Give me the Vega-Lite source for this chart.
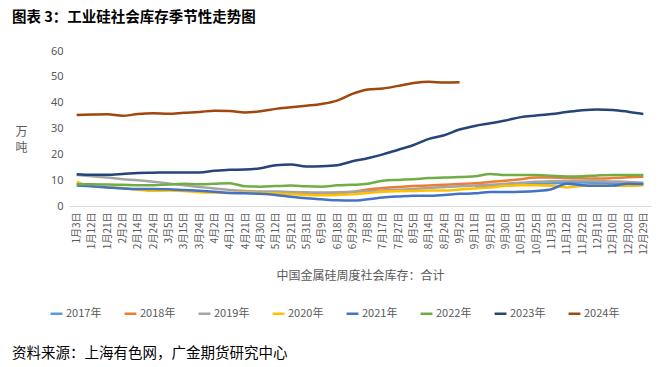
{
  "$schema": "https://vega.github.io/schema/vega-lite/v6.json",
  "padding": {"left": 12, "top": 9, "right": 5, "bottom": 5},
  "background": "white",
  "config": {
    "view": {"stroke": null},
    "font": "Noto Sans CJK SC"
  },
  "title": {
    "text": "图表 3：工业硅社会库存季节性走势图",
    "anchor": "start",
    "frame": "group",
    "fontSize": 14.5,
    "fontWeight": "bold",
    "font": "Noto Sans CJK SC",
    "color": "#000000",
    "dx": -57,
    "offset": 20
  },
  "vconcat": [
    {
      "width": 582,
      "height": 155,
      "title": {
        "text": "资料来源：上海有色网，广金期货研究中心",
        "orient": "bottom",
        "anchor": "start",
        "frame": "group",
        "fontSize": 14.5,
        "fontWeight": "normal",
        "font": "Noto Sans CJK SC",
        "color": "#000000",
        "dx": -57,
        "offset": 66
      },
      "data": {
        "values": [
          {"d":"9月11日","s":"2017年","v":7.6},{"d":"9月21日","s":"2017年","v":7.9},{"d":"9月30日","s":"2017年","v":8.0},{"d":"10月15日","s":"2017年","v":8.3},{"d":"10月25日","s":"2017年","v":8.6},{"d":"11月3日","s":"2017年","v":8.8},{"d":"11月12日","s":"2017年","v":9.0},{"d":"11月22日","s":"2017年","v":9.1},{"d":"12月1日","s":"2017年","v":9.0},{"d":"12月10日","s":"2017年","v":8.8},{"d":"12月20日","s":"2017年","v":8.6},{"d":"12月29日","s":"2017年","v":8.5},

          {"d":"5月12日","s":"2018年","v":4.8},{"d":"5月21日","s":"2018年","v":4.8},{"d":"5月31日","s":"2018年","v":4.6},{"d":"6月9日","s":"2018年","v":4.6},{"d":"6月18日","s":"2018年","v":4.9},{"d":"6月29日","s":"2018年","v":5.4},{"d":"7月8日","s":"2018年","v":6.4},{"d":"7月17日","s":"2018年","v":7.0},{"d":"7月27日","s":"2018年","v":7.4},{"d":"8月5日","s":"2018年","v":7.7},{"d":"8月14日","s":"2018年","v":7.9},{"d":"8月24日","s":"2018年","v":8.2},{"d":"9月2日","s":"2018年","v":8.5},{"d":"9月11日","s":"2018年","v":8.8},{"d":"9月21日","s":"2018年","v":9.3},{"d":"9月30日","s":"2018年","v":9.8},{"d":"10月15日","s":"2018年","v":10.4},{"d":"10月25日","s":"2018年","v":11.0},{"d":"11月3日","s":"2018年","v":11.0},{"d":"11月12日","s":"2018年","v":10.8},{"d":"11月22日","s":"2018年","v":10.7},{"d":"12月1日","s":"2018年","v":10.6},{"d":"12月10日","s":"2018年","v":10.8},{"d":"12月20日","s":"2018年","v":11.1},{"d":"12月29日","s":"2018年","v":11.3},

          {"d":"1月3日","s":"2019年","v":12.0},{"d":"1月12日","s":"2019年","v":11.5},{"d":"1月21日","s":"2019年","v":11.0},{"d":"2月2日","s":"2019年","v":10.4},{"d":"2月14日","s":"2019年","v":10.0},{"d":"2月24日","s":"2019年","v":9.4},{"d":"3月5日","s":"2019年","v":8.7},{"d":"3月15日","s":"2019年","v":8.0},{"d":"3月24日","s":"2019年","v":7.4},{"d":"4月2日","s":"2019年","v":6.8},{"d":"4月12日","s":"2019年","v":6.2},{"d":"4月21日","s":"2019年","v":5.8},{"d":"4月30日","s":"2019年","v":5.6},{"d":"5月12日","s":"2019年","v":5.6},{"d":"5月21日","s":"2019年","v":5.4},{"d":"5月31日","s":"2019年","v":5.3},{"d":"6月9日","s":"2019年","v":5.2},{"d":"6月18日","s":"2019年","v":5.3},{"d":"6月29日","s":"2019年","v":5.5},{"d":"7月8日","s":"2019年","v":5.7},{"d":"7月17日","s":"2019年","v":6.0},{"d":"7月27日","s":"2019年","v":6.3},{"d":"8月5日","s":"2019年","v":6.6},{"d":"8月14日","s":"2019年","v":7.0},{"d":"8月24日","s":"2019年","v":7.3},{"d":"9月2日","s":"2019年","v":7.6},{"d":"9月11日","s":"2019年","v":7.9},{"d":"9月21日","s":"2019年","v":8.2},{"d":"9月30日","s":"2019年","v":8.6},{"d":"10月15日","s":"2019年","v":9.0},{"d":"10月25日","s":"2019年","v":9.4},{"d":"11月3日","s":"2019年","v":9.6},{"d":"11月12日","s":"2019年","v":9.7},{"d":"11月22日","s":"2019年","v":9.8},{"d":"12月1日","s":"2019年","v":9.7},{"d":"12月10日","s":"2019年","v":9.5},{"d":"12月20日","s":"2019年","v":9.3},{"d":"12月29日","s":"2019年","v":9.0},

          {"d":"1月3日","s":"2020年","v":9.3},{"d":"1月12日","s":"2020年","v":7.6},{"d":"1月21日","s":"2020年","v":7.2},{"d":"2月2日","s":"2020年","v":7.0},{"d":"2月14日","s":"2020年","v":6.3},{"d":"2月24日","s":"2020年","v":5.9},{"d":"3月5日","s":"2020年","v":6.0},{"d":"3月15日","s":"2020年","v":5.8},{"d":"3月24日","s":"2020年","v":5.3},{"d":"4月2日","s":"2020年","v":5.2},{"d":"4月12日","s":"2020年","v":5.0},{"d":"4月21日","s":"2020年","v":5.2},{"d":"4月30日","s":"2020年","v":5.0},{"d":"5月12日","s":"2020年","v":4.8},{"d":"5月21日","s":"2020年","v":4.6},{"d":"5月31日","s":"2020年","v":4.3},{"d":"6月9日","s":"2020年","v":4.2},{"d":"6月18日","s":"2020年","v":4.3},{"d":"6月29日","s":"2020年","v":4.5},{"d":"7月8日","s":"2020年","v":5.0},{"d":"7月17日","s":"2020年","v":5.5},{"d":"7月27日","s":"2020年","v":5.7},{"d":"8月5日","s":"2020年","v":5.8},{"d":"8月14日","s":"2020年","v":6.0},{"d":"8月24日","s":"2020年","v":6.0},{"d":"9月2日","s":"2020年","v":6.4},{"d":"9月11日","s":"2020年","v":6.8},{"d":"9月21日","s":"2020年","v":7.2},{"d":"9月30日","s":"2020年","v":7.8},{"d":"10月15日","s":"2020年","v":8.0},{"d":"10月25日","s":"2020年","v":8.0},{"d":"11月3日","s":"2020年","v":7.8},{"d":"11月12日","s":"2020年","v":7.2},{"d":"11月22日","s":"2020年","v":7.8},{"d":"12月1日","s":"2020年","v":8.0},{"d":"12月10日","s":"2020年","v":7.8},{"d":"12月20日","s":"2020年","v":7.8},{"d":"12月29日","s":"2020年","v":8.0},

          {"d":"1月3日","s":"2021年","v":7.9},{"d":"1月12日","s":"2021年","v":7.6},{"d":"1月21日","s":"2021年","v":7.2},{"d":"2月2日","s":"2021年","v":6.8},{"d":"2月14日","s":"2021年","v":6.6},{"d":"2月24日","s":"2021年","v":6.6},{"d":"3月5日","s":"2021年","v":6.5},{"d":"3月15日","s":"2021年","v":6.2},{"d":"3月24日","s":"2021年","v":5.9},{"d":"4月2日","s":"2021年","v":5.5},{"d":"4月12日","s":"2021年","v":5.0},{"d":"4月21日","s":"2021年","v":4.9},{"d":"4月30日","s":"2021年","v":4.7},{"d":"5月12日","s":"2021年","v":4.3},{"d":"5月21日","s":"2021年","v":3.6},{"d":"5月31日","s":"2021年","v":3.0},{"d":"6月9日","s":"2021年","v":2.6},{"d":"6月18日","s":"2021年","v":2.2},{"d":"6月29日","s":"2021年","v":2.1},{"d":"7月8日","s":"2021年","v":2.6},{"d":"7月17日","s":"2021年","v":3.3},{"d":"7月27日","s":"2021年","v":3.7},{"d":"8月5日","s":"2021年","v":4.0},{"d":"8月14日","s":"2021年","v":4.0},{"d":"8月24日","s":"2021年","v":4.3},{"d":"9月2日","s":"2021年","v":4.7},{"d":"9月11日","s":"2021年","v":4.9},{"d":"9月21日","s":"2021年","v":5.4},{"d":"9月30日","s":"2021年","v":5.4},{"d":"10月15日","s":"2021年","v":5.5},{"d":"10月25日","s":"2021年","v":5.8},{"d":"11月3日","s":"2021年","v":6.5},{"d":"11月12日","s":"2021年","v":8.6},{"d":"11月22日","s":"2021年","v":8.0},{"d":"12月1日","s":"2021年","v":7.8},{"d":"12月10日","s":"2021年","v":7.9},{"d":"12月20日","s":"2021年","v":8.6},{"d":"12月29日","s":"2021年","v":8.5},

          {"d":"1月3日","s":"2022年","v":8.4},{"d":"1月12日","s":"2022年","v":8.4},{"d":"1月21日","s":"2022年","v":8.3},{"d":"2月2日","s":"2022年","v":8.2},{"d":"2月14日","s":"2022年","v":8.0},{"d":"2月24日","s":"2022年","v":8.0},{"d":"3月5日","s":"2022年","v":8.3},{"d":"3月15日","s":"2022年","v":8.6},{"d":"3月24日","s":"2022年","v":8.4},{"d":"4月2日","s":"2022年","v":8.6},{"d":"4月12日","s":"2022年","v":8.8},{"d":"4月21日","s":"2022年","v":7.6},{"d":"4月30日","s":"2022年","v":7.5},{"d":"5月12日","s":"2022年","v":7.7},{"d":"5月21日","s":"2022年","v":7.9},{"d":"5月31日","s":"2022年","v":7.6},{"d":"6月9日","s":"2022年","v":7.5},{"d":"6月18日","s":"2022年","v":8.0},{"d":"6月29日","s":"2022年","v":8.2},{"d":"7月8日","s":"2022年","v":8.6},{"d":"7月17日","s":"2022年","v":9.8},{"d":"7月27日","s":"2022年","v":10.1},{"d":"8月5日","s":"2022年","v":10.4},{"d":"8月14日","s":"2022年","v":10.8},{"d":"8月24日","s":"2022年","v":11.0},{"d":"9月2日","s":"2022年","v":11.2},{"d":"9月11日","s":"2022年","v":11.5},{"d":"9月21日","s":"2022年","v":12.4},{"d":"9月30日","s":"2022年","v":12.0},{"d":"10月15日","s":"2022年","v":12.0},{"d":"10月25日","s":"2022年","v":12.0},{"d":"11月3日","s":"2022年","v":11.7},{"d":"11月12日","s":"2022年","v":11.4},{"d":"11月22日","s":"2022年","v":11.5},{"d":"12月1日","s":"2022年","v":11.8},{"d":"12月10日","s":"2022年","v":12.0},{"d":"12月20日","s":"2022年","v":12.0},{"d":"12月29日","s":"2022年","v":12.0},

          {"d":"1月3日","s":"2023年","v":12.3},{"d":"1月12日","s":"2023年","v":12.1},{"d":"1月21日","s":"2023年","v":12.1},{"d":"2月2日","s":"2023年","v":12.4},{"d":"2月14日","s":"2023年","v":12.8},{"d":"2月24日","s":"2023年","v":12.9},{"d":"3月5日","s":"2023年","v":13.0},{"d":"3月15日","s":"2023年","v":13.0},{"d":"3月24日","s":"2023年","v":13.0},{"d":"4月2日","s":"2023年","v":13.6},{"d":"4月12日","s":"2023年","v":14.0},{"d":"4月21日","s":"2023年","v":14.1},{"d":"4月30日","s":"2023年","v":14.6},{"d":"5月12日","s":"2023年","v":15.8},{"d":"5月21日","s":"2023年","v":16.1},{"d":"5月31日","s":"2023年","v":15.3},{"d":"6月9日","s":"2023年","v":15.4},{"d":"6月18日","s":"2023年","v":15.8},{"d":"6月29日","s":"2023年","v":17.3},{"d":"7月8日","s":"2023年","v":18.5},{"d":"7月17日","s":"2023年","v":20.0},{"d":"7月27日","s":"2023年","v":21.8},{"d":"8月5日","s":"2023年","v":23.6},{"d":"8月14日","s":"2023年","v":26.0},{"d":"8月24日","s":"2023年","v":27.4},{"d":"9月2日","s":"2023年","v":29.6},{"d":"9月11日","s":"2023年","v":31.0},{"d":"9月21日","s":"2023年","v":32.0},{"d":"9月30日","s":"2023年","v":33.1},{"d":"10月15日","s":"2023年","v":34.4},{"d":"10月25日","s":"2023年","v":35.0},{"d":"11月3日","s":"2023年","v":35.6},{"d":"11月12日","s":"2023年","v":36.4},{"d":"11月22日","s":"2023年","v":37.1},{"d":"12月1日","s":"2023年","v":37.4},{"d":"12月10日","s":"2023年","v":37.2},{"d":"12月20日","s":"2023年","v":36.5},{"d":"12月29日","s":"2023年","v":35.6},

          {"d":"1月3日","s":"2024年","v":35.2},{"d":"1月12日","s":"2024年","v":35.4},{"d":"1月21日","s":"2024年","v":35.5},{"d":"2月2日","s":"2024年","v":34.9},{"d":"2月14日","s":"2024年","v":35.6},{"d":"2月24日","s":"2024年","v":35.9},{"d":"3月5日","s":"2024年","v":35.7},{"d":"3月15日","s":"2024年","v":36.1},{"d":"3月24日","s":"2024年","v":36.4},{"d":"4月2日","s":"2024年","v":36.9},{"d":"4月12日","s":"2024年","v":36.8},{"d":"4月21日","s":"2024年","v":36.2},{"d":"4月30日","s":"2024年","v":36.7},{"d":"5月12日","s":"2024年","v":37.6},{"d":"5月21日","s":"2024年","v":38.2},{"d":"5月31日","s":"2024年","v":38.8},{"d":"6月9日","s":"2024年","v":39.5},{"d":"6月18日","s":"2024年","v":40.8},{"d":"6月29日","s":"2024年","v":43.4},{"d":"7月8日","s":"2024年","v":45.1},{"d":"7月17日","s":"2024年","v":45.5},{"d":"7月27日","s":"2024年","v":46.5},{"d":"8月5日","s":"2024年","v":47.6},{"d":"8月14日","s":"2024年","v":48.1},{"d":"8月24日","s":"2024年","v":47.8},{"d":"9月2日","s":"2024年","v":47.9}
        ]
      },
      "mark": {"type": "line", "strokeWidth": 2.5, "interpolate": "monotone"},
      "encoding": {
        "x": {
          "field": "d",
          "type": "ordinal",
          "sort": ["1月3日","1月12日","1月21日","2月2日","2月14日","2月24日","3月5日","3月15日","3月24日","4月2日","4月12日","4月21日","4月30日","5月12日","5月21日","5月31日","6月9日","6月18日","6月29日","7月8日","7月17日","7月27日","8月5日","8月14日","8月24日","9月2日","9月11日","9月21日","9月30日","10月15日","10月25日","11月3日","11月12日","11月22日","12月1日","12月10日","12月20日","12月29日"],
          "scale": {"type": "point", "padding": 0.5},
          "axis": {
            "title": "中国金属硅周度社会库存：合计",
            "titleFont": "Noto Sans CJK SC",
            "titleFontSize": 12,
            "titleFontWeight": "normal",
            "titleColor": "#595959",
            "titlePadding": 16,
            "labelAngle": 270,
            "labelFont": "Noto Sans CJK SC",
            "labelFontSize": 10,
            "labelColor": "#595959",
            "labelPadding": 6,
            "labelOverlap": false,
            "ticks": false,
            "domainColor": "#D9D9D9",
            "domainWidth": 1
          }
        },
        "y": {
          "field": "v",
          "type": "quantitative",
          "scale": {"domain": [0, 60], "nice": false},
          "axis": {
            "values": [0, 10, 20, 30, 40, 50, 60],
            "title": ["万", "吨"],
            "titleAngle": 0,
            "titleFont": "Noto Sans CJK SC",
            "titleFontSize": 12,
            "titleFontWeight": "normal",
            "titleColor": "#595959",
            "titleLineHeight": 16,
            "titleX": -48,
            "titleY": 80,
            "titleAlign": "center",
            "titleBaseline": "middle",
            "labelFont": "Noto Sans",
            "labelFontSize": 11,
            "labelColor": "#595959",
            "labelPadding": 6,
            "grid": false,
            "domain": false,
            "ticks": false
          }
        },
        "color": {
          "field": "s",
          "type": "nominal",
          "scale": {
            "domain": ["2017年","2018年","2019年","2020年","2021年","2022年","2023年","2024年"],
            "range": ["#5B9BD5","#ED7D31","#A5A5A5","#FFC000","#4472C4","#70AD47","#264478","#9E480E"]
          },
          "legend": {
            "title": null,
            "orient": "none",
            "direction": "horizontal",
            "legendX": -20,
            "legendY": 255,
            "symbolType": "stroke",
            "symbolStrokeWidth": 2.5,
            "symbolSize": 140,
            "labelFont": "Noto Sans CJK SC",
            "labelFontSize": 11,
            "labelColor": "#595959",
            "labelOffset": 2,
            "columnPadding": 17
          }
        }
      }
    }
  ]
}
